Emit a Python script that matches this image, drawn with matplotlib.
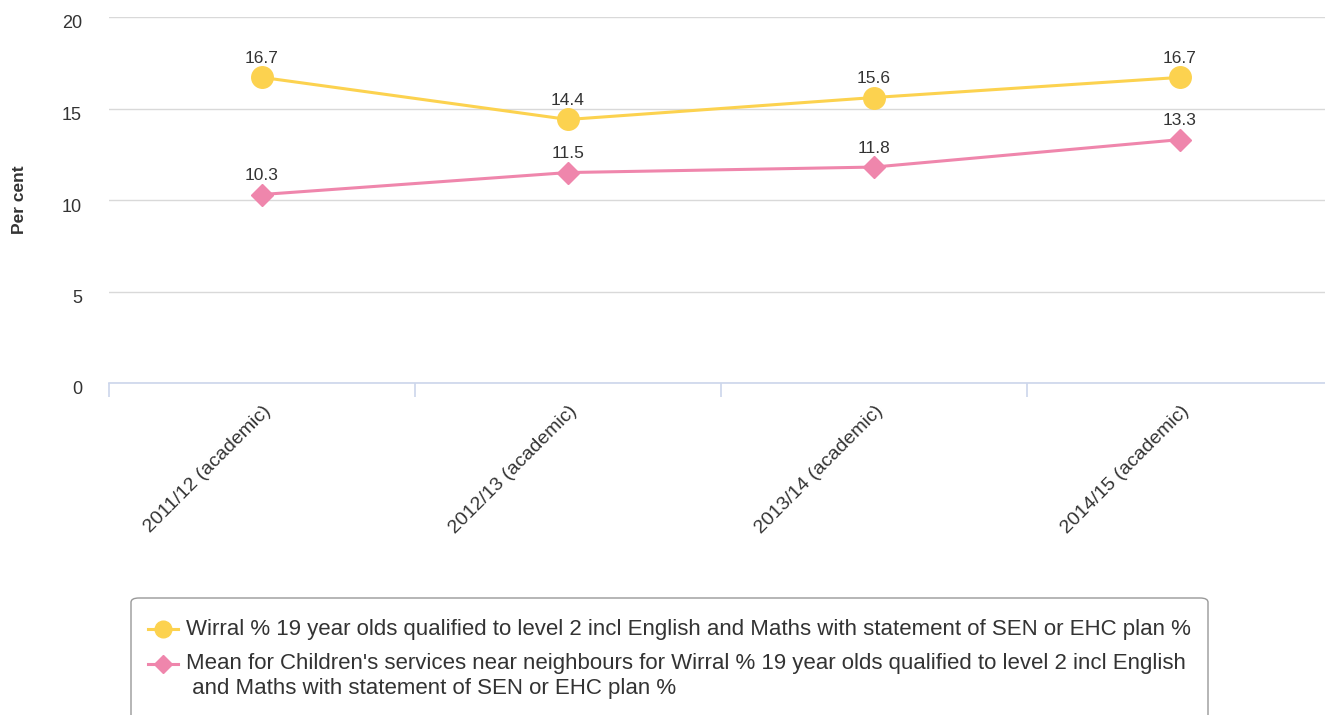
import matplotlib.pyplot as plt
from matplotlib.patches import FancyBboxPatch
from matplotlib.lines import Line2D
from matplotlib.transforms import ScaledTranslation

categories = ["2011/12 (academic)", "2012/13 (academic)", "2013/14 (academic)", "2014/15 (academic)"]
wirral = [16.7, 14.4, 15.6, 16.7]
neighbours = [10.3, 11.5, 11.8, 13.3]
wirral_name = "Wirral % 19 year olds qualified to level 2 incl English and Maths with statement of SEN or EHC plan %"
neigh_name = ("Mean for Children's services near neighbours for Wirral % 19 year olds qualified to level 2 incl English\n"
              " and Maths with statement of SEN or EHC plan %")

yellow = "#fcd24f"
pink = "#ef86ac"
txt = "#333333"

plt.rcParams['font.family'] = ['Liberation Sans', 'DejaVu Sans']

fig = plt.figure(figsize=(13.25, 7.15), dpi=100)
W, H = 1325, 715
ax = fig.add_axes([109 / W, 1 - 383 / H, (1333 - 109) / W, (383 - 17) / H])

x = list(range(len(categories)))
ax.plot(x, wirral, color=yellow, lw=2.2, marker="o", ms=15.5, zorder=3)
ax.plot(x, neighbours, color=pink, lw=2.2, marker="D", ms=11, zorder=3)

for xi, v in zip(x, wirral):
    ax.annotate(f"{v}", (xi, v), xytext=(0, 8), textcoords="offset points",
                ha="center", va="bottom", fontsize=12.5, color=txt)
for xi, v in zip(x, neighbours):
    ax.annotate(f"{v}", (xi, v), xytext=(0, 8), textcoords="offset points",
                ha="center", va="bottom", fontsize=12.5, color=txt)

ax.set_xlim(-0.5, 3.5)
ax.set_ylim(0, 20)
ax.set_yticks([0, 5, 10, 15, 20])
ax.grid(axis="y", color="#d9d9d9", lw=1)
ax.set_axisbelow(True)
for s in ["top", "right", "left"]:
    ax.spines[s].set_visible(False)
ax.spines["bottom"].set_color("#ccd6eb")
ax.spines["bottom"].set_linewidth(1.2)
ax.tick_params(axis="y", length=0, labelsize=13, labelcolor=txt, pad=19.5)
for lab in ax.get_yticklabels():
    lab.set_transform(lab.get_transform() + ScaledTranslation(0, -0.05, fig.dpi_scale_trans))

ax.set_xticks([-0.5, 0.5, 1.5, 2.5])
ax.set_xticklabels([])
ax.tick_params(axis="x", which="major", length=10, color="#ccd6eb", width=1.2)
ax.set_xticks(x, minor=True)
ax.set_xticklabels(categories, minor=True, rotation=45, ha="right", rotation_mode="anchor",
                   fontsize=14, color=txt)
ax.tick_params(axis="x", which="minor", length=0, pad=14)

ax.set_ylabel("Per cent", fontsize=12.5, fontweight="bold", color=txt)
ax.yaxis.set_label_coords(-82 / (1333 - 109), 0.5)

# legend box
box = FancyBboxPatch((131 / W, -20 / H), (1208 - 131) / W, (715 - 598 + 20) / H,
                     boxstyle="round,pad=0,rounding_size=0.006", transform=fig.transFigure,
                     facecolor="white", edgecolor="#999999", lw=1)
fig.patches.append(box)
fig.add_artist(Line2D([148 / W, 178 / W], [1 - 629 / H] * 2, color=yellow, lw=2.2))
fig.add_artist(Line2D([163 / W], [1 - 629 / H], color=yellow, marker="o", ms=12, lw=0))
fig.add_artist(Line2D([148 / W, 178 / W], [1 - 664 / H] * 2, color=pink, lw=2.2))
fig.add_artist(Line2D([163 / W], [1 - 664 / H], color=pink, marker="D", ms=9, lw=0))
fig.text(186 / W, 1 - 629 / H, wirral_name, fontsize=16, color=txt, va="center", ha="left")
fig.text(186 / W, 1 - 653 / H, neigh_name, fontsize=16, color=txt, va="top", ha="left",
         linespacing=1.22)

fig.savefig("out.png", dpi=100)
